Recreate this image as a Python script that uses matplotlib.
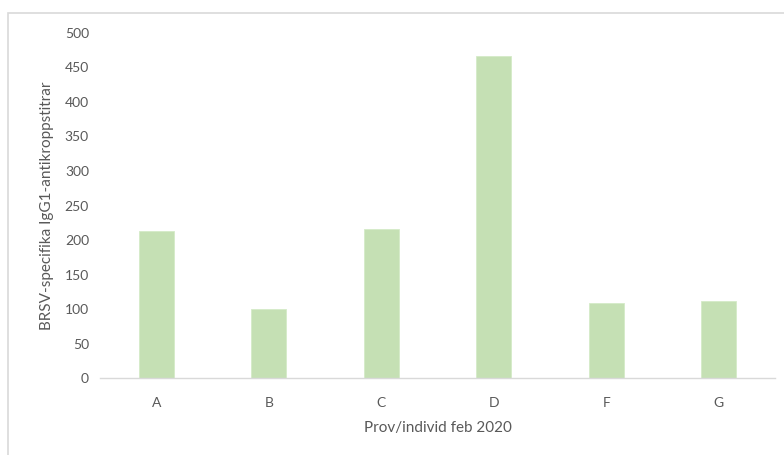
import numpy as np
import matplotlib.pyplot as plt
from matplotlib.patches import Rectangle

# data
categories = ["A", "B", "C", "D", "F", "G"]
values = [213, 100, 216, 466, 108, 111]

plt.rcParams['font.family'] = ['Lato', 'DejaVu Sans']

fig = plt.figure(figsize=(7.84, 4.55), dpi=100)
ax = fig.add_axes([0.1276, 0.1692, 0.8609, 0.7583])

x = np.arange(len(categories))
ax.bar(x, values, width=0.31, color="#C5E0B4", edgecolor="#D5EBC8", linewidth=0.6)

ax.set_xlim(-0.5, len(categories) - 0.5)
ax.set_ylim(0, 500)
ax.set_yticks(np.arange(0, 501, 50))
ax.set_xticks(x)
ax.set_xticklabels(categories)

for s in ["top", "right", "left"]:
    ax.spines[s].set_visible(False)
ax.spines["bottom"].set_color("#D9D9D9")
ax.spines["bottom"].set_linewidth(1.0)
ax.tick_params(axis="both", length=0, colors="#595959", labelsize=10)
ax.tick_params(axis="x", pad=14)
ax.tick_params(axis="y", pad=8)

ax.set_xlabel("Prov/individ feb 2020", color="#595959", fontsize=11, labelpad=8)
ax.set_ylabel("BRSV-specifika IgG1-antikroppstitrar", color="#595959", fontsize=11, labelpad=8)

# light frame around the chart area
fig.patches.append(Rectangle((8 / 784, -0.1), 1.1, 1 - 13 / 455 + 0.1,
                             transform=fig.transFigure, fill=False,
                             edgecolor="#D9D9D9", linewidth=1.2))

fig.savefig("out.png", dpi=100)
